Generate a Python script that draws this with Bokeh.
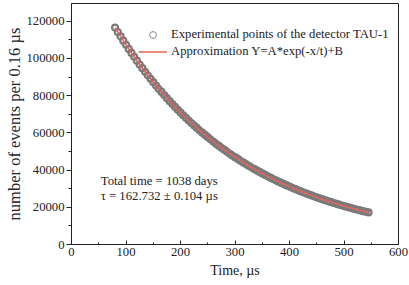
import math
from bokeh.plotting import figure
from bokeh.models import Range1d, FixedTicker, BasicTickFormatter, Label, Legend, LegendItem, Title
from bokeh.embed import file_html
from bokeh.resources import INLINE

# ---- data ----
time_us = [80, 85, 90, 95, 100, 105, 110, 115, 120, 125, 130, 135, 140, 145, 150, 155,
           160, 165, 170, 175, 180, 185, 190, 195, 200, 205, 210, 215, 220, 225, 230, 235,
           240, 245, 250, 255, 260, 265, 270, 275, 280, 285, 290, 295, 300, 305, 310, 315,
           320, 325, 330, 335, 340, 345, 350, 355, 360, 365, 370, 375, 380, 385, 390, 395,
           400, 405, 410, 415, 420, 425, 430, 435, 440, 445, 450, 455, 460, 465, 470, 475,
           480, 485, 490, 495, 500, 505, 510, 515, 520, 525, 530, 535, 540, 545]
events = [116580, 114190, 111840, 109550, 107300, 105100, 102940, 100830, 98760, 96730,
          94750, 92800, 90900, 89040, 87210, 85420, 83670, 81960, 80280, 78630,
          77020, 75450, 73900, 72390, 70900, 69450, 68030, 66640, 65280, 63940,
          62630, 61350, 60100, 58870, 57660, 56490, 55330, 54200, 53090, 52010,
          50950, 49910, 48890, 47890, 46910, 45960, 45020, 44100, 43200, 42320,
          41460, 40620, 39790, 38980, 38190, 37410, 36650, 35900, 35170, 34460,
          33760, 33070, 32400, 31740, 31100, 30470, 29850, 29240, 28650, 28070,
          27500, 26950, 26400, 25870, 25340, 24830, 24330, 23840, 23360, 22890,
          22420, 21970, 21530, 21100, 20670, 20260, 19850, 19450, 19060, 18680,
          18300, 17930, 17580, 17220]
fit_time = time_us
fit_events = events

x_ticks = [0, 100, 200, 300, 400, 500, 600]
y_ticks = [0, 20000, 40000, 60000, 80000, 100000, 120000]

legend_points = "Experimental points of the detector TAU-1"
legend_fit = "Approximation Y=A*exp(-x/t)+B"
note_1 = "Total time = 1038 days"
note_2 = "\u03c4 = 162.732 \u00b1 0.104 \u00b5s"
x_label = "Time, \u00b5s"
y_label = "number of events per 0.16 \u00b5s"

FONT = "Liberation Serif"
TXT = "#222222"

p = figure(width=409, height=285, output_backend="svg", toolbar_location=None,
           x_range=Range1d(0, 600), y_range=Range1d(0, 129500),
           min_border_left=71, min_border_right=11, min_border_top=3, min_border_bottom=41)
p.background_fill_color = "white"
p.border_fill_color = "white"
p.outline_line_color = "#222222"
p.outline_line_width = 1
p.xgrid.visible = False
p.ygrid.visible = False

pts = p.scatter(time_us, events, marker="circle", size=6, fill_color=None,
                line_color="#7a7a7a", line_width=2.2)
fit = p.line(fit_time, fit_events, line_color="#e8615a", line_width=1.5)
# thin open-circle glyph used only as the legend symbol (hidden on the plot)
pts_key = p.scatter(time_us[:1], events[:1], marker="circle", size=5, fill_color=None,
                    line_color="#8a8a8a", line_width=1, visible=False)

# axes
xa = p.xaxis[0]
xa.ticker = FixedTicker(ticks=x_ticks, minor_ticks=[v + 50 for v in x_ticks[:-1]])
xa.axis_label = x_label
ya = p.yaxis[0]
ya.ticker = FixedTicker(ticks=y_ticks, minor_ticks=[v + 10000 for v in y_ticks])
ya.formatter = BasicTickFormatter(use_scientific=False)

for ax in (xa, ya):
    ax.axis_line_color = "#222222"
    ax.major_tick_line_color = "#222222"
    ax.minor_tick_line_color = "#222222"
    ax.major_label_text_font = FONT
    ax.major_label_text_font_size = "12.7px"
    ax.major_label_text_color = TXT
    ax.axis_label_text_font = FONT
    ax.axis_label_text_font_size = "14px"
    ax.axis_label_text_font_style = "normal"
    ax.axis_label_text_color = TXT

xa.major_tick_in = 4
xa.major_tick_out = 0
xa.minor_tick_in = 2
xa.minor_tick_out = 0
xa.major_label_standoff = 3
xa.axis_label_standoff = 4

ya.major_tick_in = 0
ya.major_tick_out = 5
ya.minor_tick_in = 0
ya.minor_tick_out = 3
ya.major_label_standoff = 2

# y-axis label as a left-side title, shifted downward like the reference
p.add_layout(Title(text=y_label, align="center", offset=-27, standoff=0,
                   text_font=FONT, text_font_size="16.5px", text_font_style="normal",
                   text_color=TXT), "left")

# notes
p.add_layout(Label(x=53.7, y=34000, text=note_1, text_font=FONT, text_font_size="12.7px",
                   text_color=TXT, text_baseline="alphabetic"))
p.add_layout(Label(x=53.7, y=25800, text=note_2, text_font=FONT, text_font_size="12.7px",
                   text_color=TXT, text_baseline="alphabetic"))

legend = Legend(items=[LegendItem(label=legend_points, renderers=[pts_key]),
                       LegendItem(label=legend_fit, renderers=[fit])],
                location=(67, 184), padding=0, margin=0, spacing=0,
                glyph_width=29, glyph_height=17, label_height=17, label_standoff=4,
                border_line_color=None, background_fill_alpha=0,
                label_text_font=FONT, label_text_font_size="12.7px", label_text_color=TXT)
p.add_layout(legend)

open("out.html", "w").write(file_html(p, INLINE))
